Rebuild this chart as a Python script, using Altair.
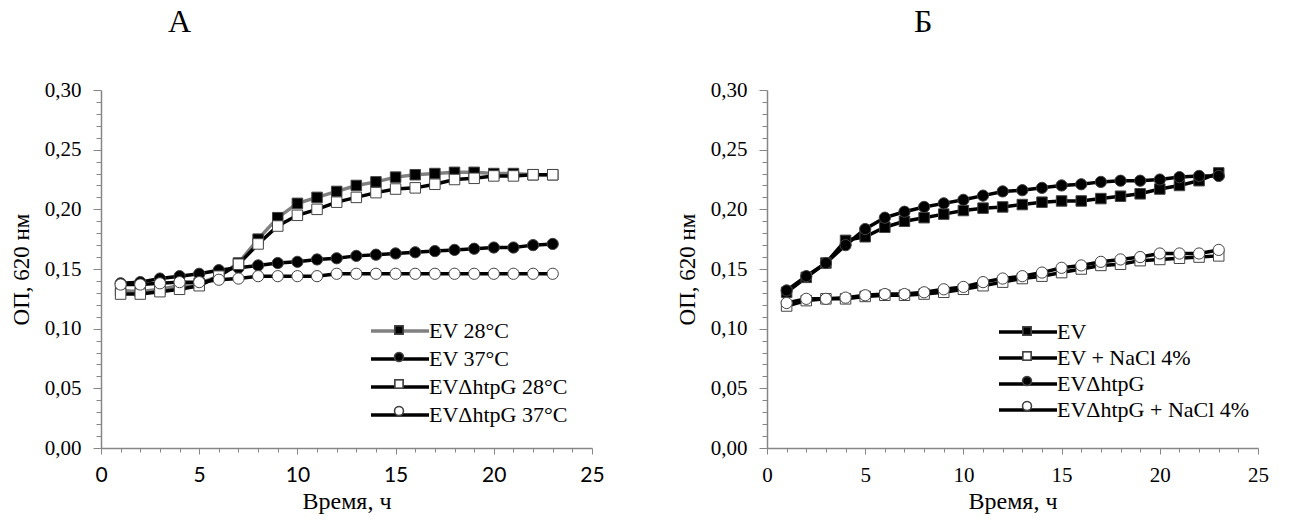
import altair as alt
import pandas as pd

SERIF = "Liberation Serif"
SANS = "Lato"

hours = list(range(1, 24))

# Panel A
names_a = ["EV 28°C", "EV 37°C", "EVΔhtpG 28°C", "EVΔhtpG 37°C"]
ev28 = [0.132, 0.131, 0.133, 0.136, 0.138, 0.144, 0.155, 0.175, 0.193, 0.205, 0.210, 0.215,
        0.220, 0.223, 0.227, 0.229, 0.230, 0.231, 0.231, 0.230, 0.230, 0.229, 0.229]
ev37 = [0.138, 0.139, 0.142, 0.144, 0.146, 0.149, 0.151, 0.153, 0.155, 0.156, 0.158, 0.159,
        0.161, 0.162, 0.163, 0.164, 0.165, 0.166, 0.167, 0.168, 0.168, 0.170, 0.171]
d28 = [0.129, 0.129, 0.131, 0.133, 0.136, 0.144, 0.154, 0.171, 0.186, 0.195, 0.200, 0.206,
       0.210, 0.214, 0.217, 0.218, 0.221, 0.225, 0.226, 0.228, 0.228, 0.229, 0.229]
d37 = [0.137, 0.137, 0.138, 0.139, 0.139, 0.141, 0.142, 0.144, 0.144, 0.144, 0.144, 0.146,
       0.146, 0.146, 0.146, 0.146, 0.146, 0.146, 0.146, 0.146, 0.146, 0.146, 0.146]

# Panel B
names_b = ["EV", "EV + NaCl 4%", "EVΔhtpG", "EVΔhtpG + NaCl 4%"]
ev = [0.1305, 0.143, 0.155, 0.174, 0.177, 0.185, 0.190, 0.193, 0.196, 0.199, 0.201, 0.202,
      0.204, 0.206, 0.207, 0.207, 0.209, 0.211, 0.213, 0.217, 0.220, 0.224, 0.2305]
ev_nacl = [0.119, 0.1235, 0.125, 0.125, 0.127, 0.128, 0.128, 0.129, 0.1305, 0.133, 0.136, 0.139,
           0.142, 0.144, 0.147, 0.150, 0.153, 0.154, 0.157, 0.158, 0.159, 0.160, 0.161]
dh = [0.132, 0.144, 0.155, 0.170, 0.1835, 0.193, 0.198, 0.202, 0.205, 0.208, 0.2115, 0.215,
      0.216, 0.218, 0.220, 0.221, 0.223, 0.224, 0.224, 0.225, 0.227, 0.228, 0.228]
dh_nacl = [0.1215, 0.125, 0.125, 0.126, 0.128, 0.129, 0.129, 0.1305, 0.133, 0.135, 0.139, 0.142,
           0.144, 0.147, 0.151, 0.153, 0.156, 0.158, 0.160, 0.163, 0.163, 0.163, 0.166]

SQUARE = "M-0.42,-0.42H0.42V0.42H-0.42Z"
CIRCLE = "M-0.45,0A0.45,0.45,0,1,0,0.45,0A0.45,0.45,0,1,0,-0.45,0Z"
LINE_SYM = "M-2.9,0H2.9"

y_ticks = [round(i * 0.01, 2) for i in range(31)]
x_ticks = list(range(26))
AXIS_GRAY = "#868686"


def make_df(names, series):
    rows = []
    for name, vals in zip(names, series):
        for h, v in zip(hours, vals):
            rows.append({"series": name, "pt": "p:" + name, "ol": "o:" + name, "h": h, "od": v})
    return pd.DataFrame(rows)


def panel(df, names, line_colors, fills, shapes, title, title_dx, xfont,
          leg_x, leg_y, row_pad):
    pnames = ["p:" + n for n in names]
    onames = ["o:" + n for n in names]
    x = alt.X(
        "h:Q",
        scale=alt.Scale(domain=[0, 25], nice=False, zero=False),
        axis=alt.Axis(
            values=x_ticks, title="Время, ч", grid=False,
            labelExpr="datum.value % 5 == 0 ? datum.label : ''",
            tickSize={"condition": {"test": "datum.value % 5 == 0", "value": 6}, "value": 4},
            labelFont=xfont, labelFontSize=21, labelColor="black", labelPadding=10,
            labelOverlap=False, labelFlush=False,
            titleFont=SERIF, titleFontSize=24, titleFontWeight="normal", titleColor="black",
            titlePadding=4, domainColor=AXIS_GRAY, tickColor=AXIS_GRAY, domainWidth=1.5,
        ),
    )
    y = alt.Y(
        "od:Q",
        scale=alt.Scale(domain=[0, 0.3], nice=False),
        axis=alt.Axis(
            values=y_ticks, title="ОП, 620 нм", grid=False,
            labelExpr="round(datum.value*100) % 5 == 0 ? replace(format(datum.value, '.2f'), '.', ',') : ''",
            tickSize={"condition": {"test": "round(datum.value*100) % 5 == 0", "value": 8}, "value": 5},
            labelFont=SERIF, labelFontSize=21, labelColor="black", labelPadding=12,
            labelOverlap=False, labelFlush=False,
            titleFont=SERIF, titleFontSize=23, titleFontWeight="normal", titleColor="black",
            titlePadding=11, domainColor=AXIS_GRAY, tickColor=AXIS_GRAY, domainWidth=1.5,
        ),
    )
    common = dict(
        title=None, orient="none", legendX=leg_x, legendY=leg_y, direction="vertical",
        symbolSize=400, labelFont=SERIF, labelFontSize=22, labelOffset=17, labelLimit=400,
        rowPadding=row_pad, padding=0,
    )
    line_leg = alt.Legend(symbolType=LINE_SYM, symbolStrokeWidth=3.5, labelColor="black",
                          zindex=1, **common)
    pt_leg = alt.Legend(labelExpr="''", zindex=2, **common)
    ol_leg = alt.Legend(labelExpr="''", symbolStrokeWidth=1, zindex=3, **common)

    lines = alt.Chart(df).mark_line(strokeWidth=3.5).encode(
        x=x, y=y,
        stroke=alt.Stroke("series:N", scale=alt.Scale(domain=names, range=line_colors), legend=line_leg),
    )
    pts = alt.Chart(df).mark_point(filled=True, size=625, strokeWidth=1, opacity=1).encode(
        x=x, y=y,
        shape=alt.Shape("pt:N", scale=alt.Scale(domain=pnames, range=shapes), legend=pt_leg),
        fill=alt.Fill("pt:N", scale=alt.Scale(domain=pnames, range=fills), legend=pt_leg),
        stroke=alt.value("#444444"),
    )
    # legend-only layer: outlines of the markers (no rows drawn in the plot)
    outl = alt.Chart(df).mark_point(filled=False, size=625, strokeWidth=1, color="#444444",
                                    opacity=1).encode(
        x=x, y=y,
        shape=alt.Shape("ol:N", scale=alt.Scale(domain=onames, range=shapes), legend=ol_leg),
    ).transform_filter("false")
    return alt.layer(lines, pts, outl).resolve_scale(
        shape="independent", fill="independent", stroke="independent"
    ).resolve_legend(
        shape="independent", fill="independent", stroke="independent"
    ).properties(
        width=491, height=358,
        title=alt.TitleParams(
            text=title, anchor="start", frame="group", dx=title_dx, offset=40,
            font=SERIF, fontSize=32, fontWeight="normal", color="black",
        ),
    )


df_a = make_df(names_a, [ev28, ev37, d28, d37])
df_b = make_df(names_b, [ev, ev_nacl, dh, dh_nacl])

pa = panel(
    df_a, names_a,
    ["#808080", "black", "black", "black"],
    ["black", "black", "white", "white"],
    [SQUARE, CIRCLE, SQUARE, CIRCLE],
    "А", 67, SANS, 287, 229, 5,
)
pb = panel(
    df_b, names_b,
    ["black", "black", "black", "black"],
    ["black", "white", "black", "white"],
    [SQUARE, SQUARE, CIRCLE, CIRCLE],
    "Б", 147, SERIF, 249, 230, 3,
)

chart = alt.hconcat(pa, pb, spacing=71).resolve_scale(
    stroke="independent", fill="independent", shape="independent", x="independent", y="independent"
).resolve_legend(
    stroke="independent", fill="independent", shape="independent"
).properties(
    padding={"left": 10, "top": 6, "right": 5, "bottom": 5},
    background="white",
).configure_view(stroke=None).configure_axis(
    labelFont=SERIF, titleFont=SERIF, titleFontWeight="normal"
).configure_legend(labelFont=SERIF)

chart.save("out.html", embed_options={"renderer": "svg", "actions": False})
